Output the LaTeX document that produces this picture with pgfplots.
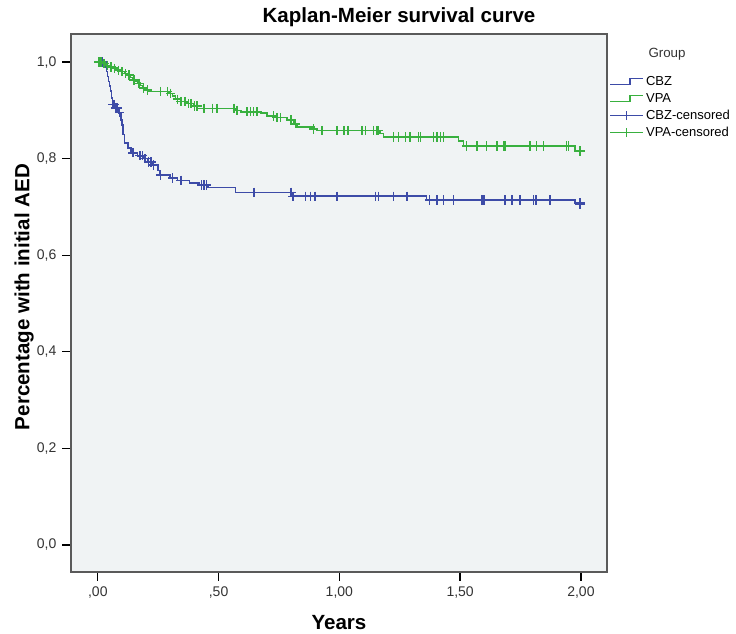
\documentclass[border=0pt]{standalone}
\usepackage{pgfplots}
\pgfplotsset{compat=1.18}
\usepackage{fontspec}
\setmainfont{Liberation Sans}

\definecolor{cbz}{HTML}{3D4BA7}
\definecolor{vpa}{HTML}{39B03F}
\definecolor{bgc}{HTML}{F0F3F4}
\definecolor{framec}{HTML}{5A5A5A}

\begin{document}
\begin{tikzpicture}
\begin{axis}[
    name=ax,
    width=402pt, height=403.5pt, scale only axis,
    xmin=-0.111, xmax=2.108,
    ymin=-0.056, ymax=1.058,
    axis background/.style={fill=bgc},
    axis line style={draw=framec, line width=1.1pt},
    xtick={0,0.5,1,1.5,2},
    xticklabels={{,00},{,50},{1,00},{1,50},{2,00}},
    ytick={0,0.2,0.4,0.6,0.8,1},
    yticklabels={{0,0},{0,2},{0,4},{0,6},{0,8},{1,0}},
    xtick pos=bottom, ytick pos=left,
    tick align=outside,
    major tick length=6.5pt,
    major tick style={black, line width=1pt},
    tick label style={font=\fontsize{10.5}{12}\selectfont, text=black!80},
    xticklabel style={yshift=-1pt},
    yticklabel style={xshift=-1pt},
    every axis title shift=0pt,
    title={Kaplan-Meier survival curve},
    title style={font=\fontsize{15.4}{18}\selectfont\bfseries,
        at={(axis description cs:0.612,1.0316)}, anchor=center},
    xlabel={Years},
    xlabel style={font=\fontsize{15.4}{18}\selectfont\bfseries,
        at={(axis description cs:0.5,-0.0948)}, anchor=center},
    ylabel={Percentage with initial AED},
    ylabel style={font=\fontsize{15.4}{18}\selectfont\bfseries,
        at={(axis description cs:-0.0877,0.511)}, anchor=center},
    clip mode=individual,
    legend cell align=left,
    legend style={draw=none, fill=none, inner sep=0pt,
        at={(axis description cs:1.004,0.925)}, anchor=north west,
        font=\fontsize{9.75}{11}\selectfont, row sep=2.7pt,
        nodes={inner sep=0.5pt, text height=7.3pt, text depth=1.8pt},
        /tikz/every odd column/.append style={column sep=1pt}},
]

% CBZ survival (step)
\addplot[cbz, line width=1.2pt, const plot, forget plot] coordinates {
(0,1.000) (0.030,0.990) (0.036,0.980) (0.040,0.970) (0.044,0.960)
(0.048,0.950) (0.052,0.940) (0.056,0.925) (0.060,0.912) (0.075,0.905)
(0.088,0.895) (0.095,0.880) (0.100,0.870) (0.105,0.850) (0.110,0.832)
(0.125,0.822) (0.138,0.812) (0.165,0.806) (0.190,0.800) (0.205,0.793)
(0.225,0.787) (0.250,0.775) (0.255,0.766) (0.300,0.760) (0.330,0.755)
(0.380,0.750) (0.420,0.745) (0.455,0.740) (0.570,0.730) (0.805,0.722)
(1.360,0.714) (1.975,0.707) (1.996,0.707)
};
% VPA survival (step)
\addplot[vpa, line width=1.2pt, const plot, forget plot] coordinates {
(0,1.000) (0.020,0.997) (0.035,0.993) (0.050,0.990) (0.065,0.987)
(0.080,0.983) (0.095,0.980) (0.110,0.976) (0.123,0.973) (0.133,0.968)
(0.143,0.963) (0.153,0.960) (0.164,0.956) (0.175,0.951) (0.185,0.946)
(0.200,0.942) (0.212,0.939) (0.295,0.935) (0.310,0.930) (0.322,0.923)
(0.343,0.918) (0.370,0.914) (0.398,0.909) (0.412,0.904) (0.570,0.900)
(0.591,0.897) (0.673,0.894) (0.701,0.888) (0.742,0.885) (0.784,0.880)
(0.811,0.872) (0.825,0.866) (0.894,0.861) (0.908,0.858) (1.169,0.852)
(1.183,0.845) (1.493,0.837) (1.514,0.826) (1.975,0.815) (1.996,0.815)
};

% CBZ censored
\addplot[cbz, only marks, mark=+, mark size=3.5pt, mark options={line width=1.1pt}, forget plot] coordinates {
(0.010,1.000) (0.020,1.000) (0.062,0.912) (0.068,0.912) (0.075,0.905)
(0.080,0.905) (0.090,0.895) (0.145,0.812) (0.175,0.806) (0.185,0.806)
(0.195,0.800) (0.210,0.793) (0.220,0.793) (0.230,0.787) (0.260,0.766)
(0.310,0.760) (0.345,0.755) (0.430,0.745) (0.440,0.745) (0.450,0.745)
(0.646,0.730) (0.800,0.730) (0.808,0.722) (0.860,0.722) (0.880,0.722)
(0.900,0.722) (0.990,0.722) (1.149,0.722) (1.163,0.722) (1.225,0.722)
(1.280,0.722) (1.373,0.714) (1.404,0.714) (1.431,0.714) (1.472,0.714)
(1.590,0.714) (1.599,0.714) (1.686,0.714) (1.714,0.714) (1.748,0.714)
(1.803,0.714) (1.814,0.714) (1.872,0.714)
};
% VPA censored
\addplot[vpa, only marks, mark=+, mark size=3.5pt, mark options={line width=1.1pt}, forget plot] coordinates {
(0.005,1.000) (0.010,1.000) (0.015,1.000) (0.025,0.997) (0.040,0.993)
(0.055,0.990) (0.070,0.987) (0.085,0.983) (0.100,0.980) (0.115,0.976)
(0.130,0.973) (0.150,0.963) (0.170,0.956) (0.190,0.946) (0.205,0.942)
(0.260,0.939) (0.288,0.939) (0.301,0.935) (0.330,0.923) (0.345,0.918)
(0.360,0.918) (0.375,0.914) (0.385,0.914) (0.400,0.909) (0.410,0.909)
(0.439,0.904) (0.474,0.904) (0.494,0.904) (0.563,0.904) (0.577,0.900)
(0.618,0.897) (0.632,0.897) (0.645,0.897) (0.659,0.897) (0.728,0.888)
(0.742,0.885) (0.756,0.885) (0.800,0.880) (0.818,0.872) (0.894,0.861)
(0.928,0.858) (0.990,0.858) (1.020,0.858) (1.035,0.858) (1.094,0.858)
(1.108,0.858) (1.142,0.858) (1.156,0.858) (1.163,0.858) (1.225,0.845)
(1.245,0.845) (1.273,0.845) (1.293,0.845) (1.328,0.845) (1.335,0.845)
(1.390,0.845) (1.404,0.845) (1.418,0.845) (1.431,0.845) (1.527,0.826)
(1.569,0.826) (1.610,0.826) (1.652,0.826) (1.679,0.826) (1.686,0.826)
(1.790,0.826) (1.817,0.826) (1.845,0.826) (1.941,0.826) (1.948,0.826)
};
% last censored cases, drawn heavier
\addplot[cbz, only marks, mark=+, mark size=3.8pt, mark options={line width=1.7pt}, forget plot] coordinates {(1.996,0.707)};
\addplot[vpa, only marks, mark=+, mark size=3.8pt, mark options={line width=1.7pt}, forget plot] coordinates {(1.996,0.815)};

\addlegendimage{legend image code/.code={\draw[cbz, line width=1pt] (0pt,-2.2pt) -- (15pt,-2.2pt) -- (15pt,2.2pt) -- (25pt,2.2pt);}}
\addlegendentry{CBZ}
\addlegendimage{legend image code/.code={\draw[vpa, line width=1pt] (0pt,-2.2pt) -- (15pt,-2.2pt) -- (15pt,2.2pt) -- (25pt,2.2pt);}}
\addlegendentry{VPA}
\addlegendimage{legend image code/.code={\draw[cbz, line width=1pt] (0pt,0pt) -- (25pt,0pt) (12.5pt,-3.4pt) -- (12.5pt,3.4pt);}}
\addlegendentry{CBZ-censored}
\addlegendimage{legend image code/.code={\draw[vpa, line width=1pt] (0pt,0pt) -- (25pt,0pt) (12.5pt,-3.4pt) -- (12.5pt,3.4pt);}}
\addlegendentry{VPA-censored}

\node[font=\fontsize{10}{12}\selectfont, text=black!80, anchor=center]
    at (axis description cs:1.112,0.962) {Group};
\end{axis}
\pgfresetboundingbox
\path[use as bounding box] ([xshift=-53.25pt,yshift=-45.75pt]ax.south west)
    rectangle ([xshift=96.75pt,yshift=25.5pt]ax.north east);
\end{tikzpicture}
\end{document}
